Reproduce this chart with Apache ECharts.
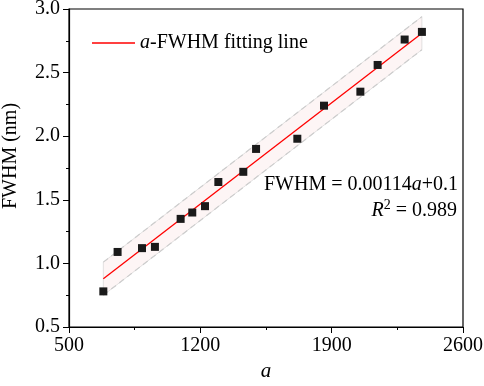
<!DOCTYPE html>
<html>
<head>
<meta charset="utf-8">
<script src="https://cdn.jsdelivr.net/npm/echarts@6/dist/echarts.min.js"></script>
<style>
  html, body { margin: 0; padding: 0; background: #fff; }
  #chart { width: 484px; height: 386px; }
</style>
</head>
<body>
<div id="chart"></div>
<script>
// measured points (a, FWHM)
const aValues = [683, 759, 889, 958, 1095, 1157, 1225, 1296, 1429, 1497, 1717, 1859, 2053, 2145, 2289, 2381];
const fwhmValues = [0.78, 1.09, 1.12, 1.13, 1.35, 1.40, 1.45, 1.64, 1.72, 1.90, 1.98, 2.24, 2.35, 2.56, 2.76, 2.82];

// fitting line end points
const fitA = [683, 2381];
const fitFWHM = [0.88, 2.81];

// band edges at the ends
const bandA = [683, 2381];
const bandUpper = [1.01, 2.94];
const bandLower = [0.75, 2.68];

const xTicks = [500, 1200, 1900, 2600];
const yTicks = [0.5, 1.0, 1.5, 2.0, 2.5, 3.0];

const font = "'Liberation Serif', 'Times New Roman', serif";

let myChart = echarts.init(document.getElementById('chart'));

const points = aValues.map((a, i) => [a, fwhmValues[i]]);
const fitLine = fitA.map((a, i) => [a, fitFWHM[i]]);
const upperLine = bandA.map((a, i) => [a, bandUpper[i]]);
const lowerLine = bandA.map((a, i) => [a, bandLower[i]]);

let option = {
    animation: false,
    grid: {
        left: 69,
        top: 9,
        right: 21,
        bottom: 59,
        outerBoundsMode: 'none',
        containLabel: false,
        show: true,
        borderColor: '#000',
        borderWidth: 1.2
    },
    legend: {
        left: 87,
        top: 28,
        data: [{ name: 'fit', icon: 'rect' }],
        itemWidth: 43,
        itemHeight: 1.5,
        itemGap: 4,
        formatter: () => '{i|a}-FWHM fitting line',
        textStyle: {
            fontFamily: font,
            fontSize: 20,
            color: '#000',
            rich: {
                i: { fontFamily: font, fontSize: 20, fontStyle: 'italic', color: '#000' }
            }
        }
    },
    xAxis: {
        type: 'value',
        min: 500,
        max: 2600,
        interval: 700,
        axisLine: { show: true, lineStyle: { color: '#000', width: 1.2 } },
        axisTick: { show: true, inside: false, length: 6, lineStyle: { color: '#000' } },
        minorTick: { show: true, splitNumber: 2, length: 3, lineStyle: { color: '#000' } },
        splitLine: { show: false },
        axisLabel: {
            margin: 9,
            fontFamily: font,
            fontSize: 20,
            color: '#000',
            formatter: v => xTicks.includes(v) ? String(v) : ''
        }
    },
    yAxis: {
        type: 'value',
        min: 0.5,
        max: 3.0,
        interval: 0.5,
        axisLine: { show: true, lineStyle: { color: '#000', width: 1.2 } },
        axisTick: { show: true, inside: false, length: 6, lineStyle: { color: '#000' } },
        minorTick: { show: true, splitNumber: 2, length: 3, lineStyle: { color: '#000' } },
        splitLine: { show: false },
        axisLabel: {
            margin: 9,
            fontFamily: font,
            fontSize: 20,
            color: '#000',
            formatter: v => yTicks.includes(v) ? v.toFixed(1) : ''
        }
    },
    graphic: [
        // axis titles
        {
            type: 'text',
            x: 11,
            y: 156,
            rotation: Math.PI / 2,
            style: {
                text: 'FWHM (nm)',
                fontFamily: font,
                fontSize: 20,
                fill: '#000',
                align: 'center',
                verticalAlign: 'middle'
            }
        },
        {
            type: 'text',
            x: 266,
            y: 371,
            style: {
                text: 'a',
                fontFamily: font,
                fontSize: 21,
                fontStyle: 'italic',
                fill: '#000',
                align: 'center',
                verticalAlign: 'middle'
            }
        },
        {
            type: 'text',
            right: 26,
            top: 175,
            style: {
                text: 'FWHM = 0.00114{i|a}+0.1',
                fontFamily: font,
                fontSize: 20,
                fill: '#000',
                align: 'right',
                rich: { i: { fontFamily: font, fontSize: 20, fontStyle: 'italic', fill: '#000' } }
            }
        },
        {
            type: 'text',
            right: 27,
            top: 198,
            style: {
                text: '{i|R}{s|2}{n| = 0.989}',
                fontFamily: font,
                fontSize: 20,
                fill: '#000',
                align: 'right',
                rich: {
                    i: { fontFamily: font, fontSize: 20, fontStyle: 'italic', fill: '#000', verticalAlign: 'bottom', lineHeight: 23 },
                    s: { fontFamily: font, fontSize: 14, fill: '#000', verticalAlign: 'top', lineHeight: 14 },
                    n: { fontFamily: font, fontSize: 20, fill: '#000', verticalAlign: 'bottom', lineHeight: 23 }
                }
            }
        }
    ],
    series: [
        {
            name: 'band',
            type: 'custom',
            silent: true,
            z: 1,
            renderItem: (params, api) => {
                if (params.dataIndex !== 0) return;
                const pts = [];
                for (let i = 0; i < bandA.length; i++) pts.push(api.coord([bandA[i], bandUpper[i]]));
                for (let i = bandA.length - 1; i >= 0; i--) pts.push(api.coord([bandA[i], bandLower[i]]));
                return {
                    type: 'polygon',
                    shape: { points: pts },
                    style: { fill: 'rgba(235, 175, 175, 0.12)', stroke: 'rgba(200,200,200,0.5)', lineWidth: 1 }
                };
            },
            data: upperLine
        },
        {
            name: 'upper',
            type: 'line',
            data: upperLine,
            showSymbol: false,
            silent: true,
            z: 2,
            lineStyle: { color: '#cdcdcd', width: 1.2, type: [6, 4] }
        },
        {
            name: 'lower',
            type: 'line',
            data: lowerLine,
            showSymbol: false,
            silent: true,
            z: 2,
            lineStyle: { color: '#cdcdcd', width: 1.2, type: [6, 4] }
        },
        {
            name: 'fit',
            type: 'line',
            data: fitLine,
            symbol: 'none',
            z: 3,
            itemStyle: { color: '#ff0000' },
            lineStyle: { color: '#ff0000', width: 1.3 }
        },
        {
            name: 'points',
            type: 'scatter',
            data: points,
            symbol: 'rect',
            symbolSize: 8,
            z: 4,
            itemStyle: { color: '#1a1a1a', opacity: 1 }
        }
    ]
};

myChart.setOption(option, true);
window.addEventListener('resize', () => {
    myChart.resize();
});
</script>
</body>
</html>
